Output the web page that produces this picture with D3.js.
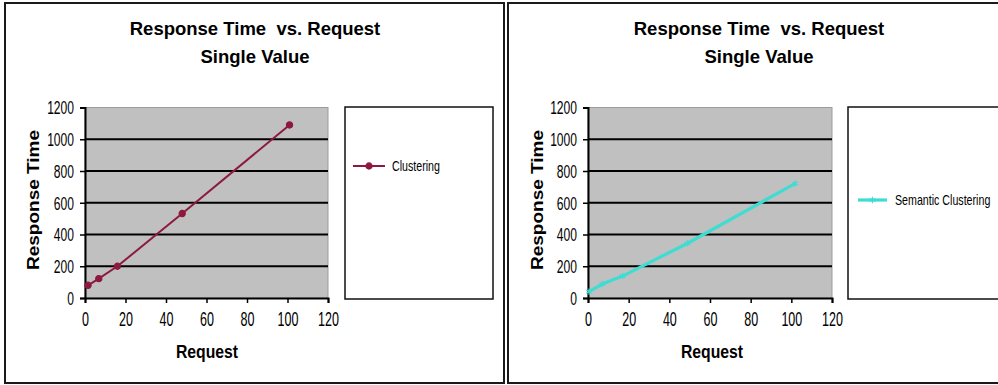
<!DOCTYPE html>
<html>
<head>
<meta charset="utf-8">
<script src="https://cdn.jsdelivr.net/npm/d3@7"></script>
<style>
  html, body { margin: 0; padding: 0; background: #ffffff; }
  svg { display: block; }
  text { font-family: "Liberation Sans", Arial, sans-serif; fill: #000; }
</style>
</head>
<body>
<svg id="chart" width="998" height="385"></svg>
<script>
// Measured runs: number of requests against mean response time
const requestsClustering = [1.5, 6.8, 16, 48, 101];
const responseClustering = [80, 122, 200, 532, 1090];

const requestsSemantic = [0.5, 7, 17, 49, 102];
const responseSemantic = [40, 88, 138, 345, 722];

const xTicks = [0, 20, 40, 60, 80, 100, 120];
const yTicks = [0, 200, 400, 600, 800, 1000, 1200];

const titleLines = ["Response Time  vs. Request", "Single Value"];
const xTitle = "Request";
const yTitle = "Response Time";

const panels = [
  { left: 5,   name: "Clustering",          xs: requestsClustering, ys: responseClustering,
    color: "#8d1a3e", width: 2, marker: "circle" },
  { left: 508, name: "Semantic Clustering", xs: requestsSemantic,   ys: responseSemantic,
    color: "#3fdcd2", width: 3.2, marker: "asterisk" }
];

const svg = d3.select("#chart");

// squeeze a text horizontally by a factor of its natural width
function squeeze(sel, k) {
  sel.each(function () {
    const w = this.getComputedTextLength();
    d3.select(this).attr("textLength", w * k).attr("lengthAdjust", "spacingAndGlyphs");
  });
}

panels.forEach((p, i) => {
  const g = svg.append("g").attr("transform", `translate(${p.left},0)`);
  const panelW = i === 0 ? 499 : 505;

  // chart frame
  g.append("rect")
    .attr("x", 0).attr("y", 3).attr("width", panelW).attr("height", 380)
    .attr("fill", "#fff").attr("stroke", "#1a1a1a").attr("stroke-width", 2);

  const plot = { x0: 80, x1: i === 0 ? 323 : 324, y0: 107.5, y1: 298 };

  const x = d3.scaleLinear().domain([0, 120]).range([plot.x0, plot.x1]);
  const y = d3.scaleLinear().domain([0, 1200]).range([plot.y1, plot.y0]);

  // plot area
  g.append("rect")
    .attr("x", x(0)).attr("y", y(1200))
    .attr("width", x(120) - x(0)).attr("height", y(0) - y(1200))
    .attr("fill", "#c0c0c0").attr("stroke", "#9c9c9c").attr("stroke-width", 1);

  // horizontal gridlines
  g.append("g").selectAll("line")
    .data(yTicks.filter(t => t > 0 && t < 1200))
    .join("line")
    .attr("x1", x(0)).attr("x2", x(120))
    .attr("y1", d => y(d)).attr("y2", d => y(d))
    .attr("stroke", "#000").attr("stroke-width", 2);

  // y axis
  const yAxis = g.append("g")
    .attr("transform", `translate(${x(0)},0)`)
    .call(d3.axisLeft(y).tickValues(yTicks).tickSize(5).tickPadding(6).tickFormat(d3.format("d")));
  yAxis.select(".domain").attr("stroke", "#000").attr("stroke-width", 2);
  yAxis.selectAll(".tick line").attr("stroke", "#000").attr("stroke-width", 1.5);
  yAxis.selectAll(".tick text")
    .style("font-size", "17.5px").style("font-family", "'Liberation Sans', Arial, sans-serif")
    .attr("fill", "#000").attr("dy", "0.36em")
    .call(squeeze, 0.69);

  // x axis
  const xAxis = g.append("g")
    .attr("transform", `translate(0,${y(0)})`)
    .call(d3.axisBottom(x).tickValues(xTicks).tickSize(5).tickPadding(8).tickFormat(d3.format("d")));
  xAxis.select(".domain").attr("stroke", "#000").attr("stroke-width", 2);
  xAxis.selectAll(".tick line").attr("stroke", "#000").attr("stroke-width", 1.5);
  xAxis.selectAll(".tick text")
    .style("font-size", "20.5px").style("font-family", "'Liberation Sans', Arial, sans-serif")
    .attr("fill", "#000").attr("dy", "0.71em")
    .call(squeeze, 0.61);

  // series line and markers
  const pts = p.xs.map((v, j) => [v, p.ys[j]]);
  g.append("path")
    .datum(pts)
    .attr("fill", "none").attr("stroke", p.color).attr("stroke-width", p.width)
    .attr("stroke-linejoin", "round")
    .attr("d", d3.line().x(d => x(d[0])).y(d => y(d[1])));

  const sym = p.marker === "circle"
    ? d3.symbol().type(d3.symbolCircle).size(30)
    : d3.symbol().type(d3.symbolAsterisk).size(28);
  g.append("g").selectAll("path")
    .data(pts)
    .join("path")
    .attr("transform", d => `translate(${x(d[0])},${y(d[1])})`)
    .attr("d", sym)
    .attr("fill", p.marker === "circle" ? p.color : "none")
    .attr("stroke", p.color).attr("stroke-width", 1.2);

  // titles
  const cx = i === 0 ? 250 : 251;
  g.append("text")
    .attr("x", cx).attr("y", 34.5).attr("text-anchor", "middle")
    .style("font-size", "18.5px").style("font-weight", "bold").style("white-space", "pre")
    .text(titleLines[0]);
  g.append("text")
    .attr("x", cx).attr("y", 62.5).attr("text-anchor", "middle")
    .style("font-size", "18.5px").style("font-weight", "bold")
    .text(titleLines[1]);

  // axis titles
  g.append("text")
    .attr("transform", `translate(${i === 0 ? 28.5 : 29},200) rotate(-90) scale(1,0.88) translate(0,6.8)`)
    .attr("text-anchor", "middle")
    .style("font-size", "19px").style("font-weight", "bold")
    .text(yTitle);
  g.append("text")
    .attr("x", i === 0 ? 202 : 204).attr("y", 358).attr("text-anchor", "middle")
    .style("font-size", "17.5px").style("font-weight", "bold")
    .text(xTitle)
    .call(squeeze, 0.9);

  // legend
  const lg = { x: 340, y: 107, w: i === 0 ? 148 : 170, h: 192 };
  g.append("rect")
    .attr("x", lg.x).attr("y", lg.y).attr("width", lg.w).attr("height", lg.h)
    .attr("fill", "#fff").attr("stroke", "#111").attr("stroke-width", 1.5);
  const ly = i === 0 ? 166 : 200;
  const lx0 = i === 0 ? 348 : 350;
  const lx1 = i === 0 ? 380 : 379;
  g.append("line")
    .attr("x1", lx0).attr("x2", lx1).attr("y1", ly).attr("y2", ly)
    .attr("stroke", p.color).attr("stroke-width", p.width);
  g.append("path")
    .attr("transform", `translate(${(lx0 + lx1) / 2},${ly})`)
    .attr("d", sym)
    .attr("fill", p.marker === "circle" ? p.color : "none")
    .attr("stroke", p.color).attr("stroke-width", 1.2);
  g.append("text")
    .attr("x", 387).attr("y", ly + 5.3)
    .style("font-size", "15px")
    .text(p.name)
    .call(squeeze, 0.71);
});
</script>
</body>
</html>
